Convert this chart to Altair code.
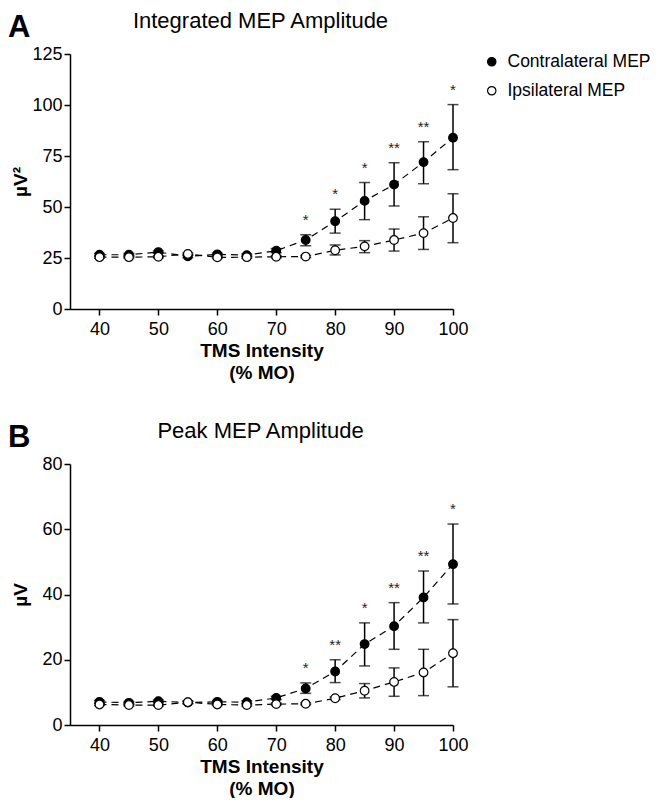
import altair as alt
import pandas as pd

intensity = [40, 45, 50, 55, 60, 65, 70, 75, 80, 85, 90, 95, 100]
series_names = ["Contralateral MEP", "Ipsilateral MEP"]

# Panel A: Integrated MEP amplitude (uV^2)
a_contra = [26.6, 26.6, 27.9, 25.8, 26.8, 26.4, 28.6, 33.8, 43.0, 53.0, 61.0, 72.0, 84.0]
a_contra_hi = [27.2, 27.2, 28.5, 26.4, 27.4, 27.0, 29.6, 36.4, 48.9, 62.0, 71.7, 82.0, 100.2]
a_contra_lo = [26.0, 26.0, 27.3, 25.2, 26.2, 25.8, 27.6, 31.0, 37.2, 43.8, 50.5, 61.4, 68.3]
a_ipsi = [25.4, 25.4, 25.6, 27.0, 25.3, 25.4, 25.6, 25.7, 28.8, 30.7, 33.8, 37.2, 44.6]
a_ipsi_hi = [25.9, 25.9, 26.1, 27.5, 25.8, 25.9, 26.1, 26.2, 31.4, 33.5, 39.2, 45.2, 56.5]
a_ipsi_lo = [24.9, 24.9, 25.1, 26.5, 24.8, 24.9, 25.1, 25.2, 26.5, 27.6, 28.4, 29.2, 32.5]
a_stars = ["", "", "", "", "", "", "", "*", "*", "*", "**", "**", "*"]

# Panel B: Peak MEP amplitude (uV)
b_contra = [7.1, 6.8, 7.3, 6.9, 7.1, 7.0, 8.3, 11.2, 16.4, 24.8, 30.3, 39.1, 49.3]
b_contra_hi = [7.5, 7.2, 7.7, 7.3, 7.5, 7.4, 8.8, 12.9, 20.0, 31.3, 37.5, 47.2, 61.6]
b_contra_lo = [6.7, 6.4, 6.9, 6.5, 6.7, 6.6, 7.8, 9.7, 13.0, 18.1, 23.2, 31.3, 37.1]
b_ipsi = [6.3, 6.1, 6.1, 7.0, 6.3, 6.1, 6.4, 6.5, 8.2, 10.5, 13.2, 16.1, 22.0]
b_ipsi_hi = [6.6, 6.4, 6.4, 7.3, 6.6, 6.4, 6.7, 6.8, 8.6, 12.7, 17.5, 23.2, 32.3]
b_ipsi_lo = [6.0, 5.8, 5.8, 6.7, 6.0, 5.8, 6.1, 6.2, 7.8, 8.3, 8.8, 9.0, 11.7]
b_stars = ["", "", "", "", "", "", "", "*", "**", "*", "**", "**", "*"]

a_yticks = [0, 25, 50, 75, 100, 125]
b_yticks = [0, 20, 40, 60, 80]

FONT = "Liberation Sans"
W = 383


def panel(letter, title, ytitle, yticks, height, contra, chi, clo, ipsi, ihi, ilo, stars, legend_y):
    rows = []
    for i, x in enumerate(intensity):
        rows.append(dict(x=x, series=series_names[0], mean=contra[i], hi=chi[i], lo=clo[i], star=stars[i]))
        rows.append(dict(x=x, series=series_names[1], mean=ipsi[i], hi=ihi[i], lo=ilo[i], star=""))
    df = pd.DataFrame(rows)
    star_df = df[(df.series == series_names[0]) & (df.star != "")]

    xenc = alt.X("x:Q", scale=alt.Scale(domain=[35, 100], nice=False, zero=False),
                 axis=alt.Axis(values=intensity, title=["TMS Intensity", "(% MO)"],
                               titleFontWeight="bold", titleFontSize=19, titleLineHeight=22,
                               titlePadding=3, labelFontSize=18, labelPadding=5,
                               labelOverlap=False, labelFlush=False, grid=False))
    yenc = alt.Y("mean:Q", scale=alt.Scale(domain=[yticks[0], yticks[-1]], nice=False),
                 axis=alt.Axis(values=yticks, title=ytitle, titleFontWeight="bold",
                               titleFontSize=19, titleX=-50, titleY=height / 2,
                               titleAngle=-90, titleAlign="center", titleBaseline="middle",
                               labelFontSize=18, labelPadding=2, labelOverlap=False,
                               grid=False))

    base = alt.Chart(df)
    line = base.mark_line(color="black", strokeDash=[7, 5], strokeWidth=1.2).encode(
        x=xenc, y=yenc, detail="series:N")
    rule = base.mark_rule(color="black", strokeWidth=1.5).encode(x="x:Q", y="lo:Q", y2="hi:Q")
    cap_hi = base.mark_tick(orient="horizontal", size=11, thickness=1.5, color="black").encode(
        x="x:Q", y="hi:Q")
    cap_lo = base.mark_tick(orient="horizontal", size=11, thickness=1.5, color="black").encode(
        x="x:Q", y="lo:Q")
    pts = base.mark_point(shape="circle", size=75, filled=True, stroke="black",
                          strokeWidth=1.2, opacity=1).encode(
        x="x:Q", y="mean:Q",
        fill=alt.Fill("series:N", sort=series_names,
                      scale=alt.Scale(domain=series_names, range=["black", "white"]),
                      legend=alt.Legend(title=None, orient="none", legendX=413, legendY=legend_y,
                                        labelFontSize=17.5, labelFont=FONT, symbolSize=70,
                                        symbolStrokeColor="black", symbolStrokeWidth=1.2,
                                        symbolType="circle", rowPadding=10, labelOffset=7,
                                        labelColor="black", padding=0)))
    star = alt.Chart(star_df).mark_text(dy=-15, fontSize=15, font=FONT, color="#222").encode(
        x="x:Q", y="hi:Q", text="star:N")
    letter_df = pd.DataFrame({"t": [letter]})
    let = alt.Chart(letter_df).mark_text(fontSize=31, fontWeight="bold", font=FONT,
                                         align="left", baseline="middle", color="black").encode(
        text="t:N", x=alt.value(-62), y=alt.value(-26))
    title_df = pd.DataFrame({"t": [title]})
    ttl = alt.Chart(title_df).mark_text(fontSize=22, font=FONT, align="center",
                                        baseline="middle", color="black").encode(
        text="t:N", x=alt.value(W / 2 - 1), y=alt.value(-33))
    return alt.layer(line, rule, cap_hi, cap_lo, pts, star, let, ttl).properties(
        width=W, height=height)


pa = panel("A", "Integrated MEP Amplitude", "µV²", a_yticks, 255,
           a_contra, a_contra_hi, a_contra_lo, a_ipsi, a_ipsi_hi, a_ipsi_lo, a_stars, -1)
pb = panel("B", "Peak MEP Amplitude", "µV", b_yticks, 261,
           b_contra, b_contra_hi, b_contra_lo, b_ipsi, b_ipsi_hi, b_ipsi_lo, b_stars, -25)

chart = alt.vconcat(pa, pb, spacing=38).properties(
    padding={"left": 0, "top": 2, "right": 0, "bottom": 0},
    background="white"
).configure_view(stroke=None).configure_axis(
    domainColor="black", domainWidth=1.5, tickColor="black", tickWidth=1.5, tickSize=6,
    labelColor="black", titleColor="black", labelFont=FONT, titleFont=FONT, grid=False
)

chart.save("out.html", embed_options={"renderer": "svg", "actions": False})
